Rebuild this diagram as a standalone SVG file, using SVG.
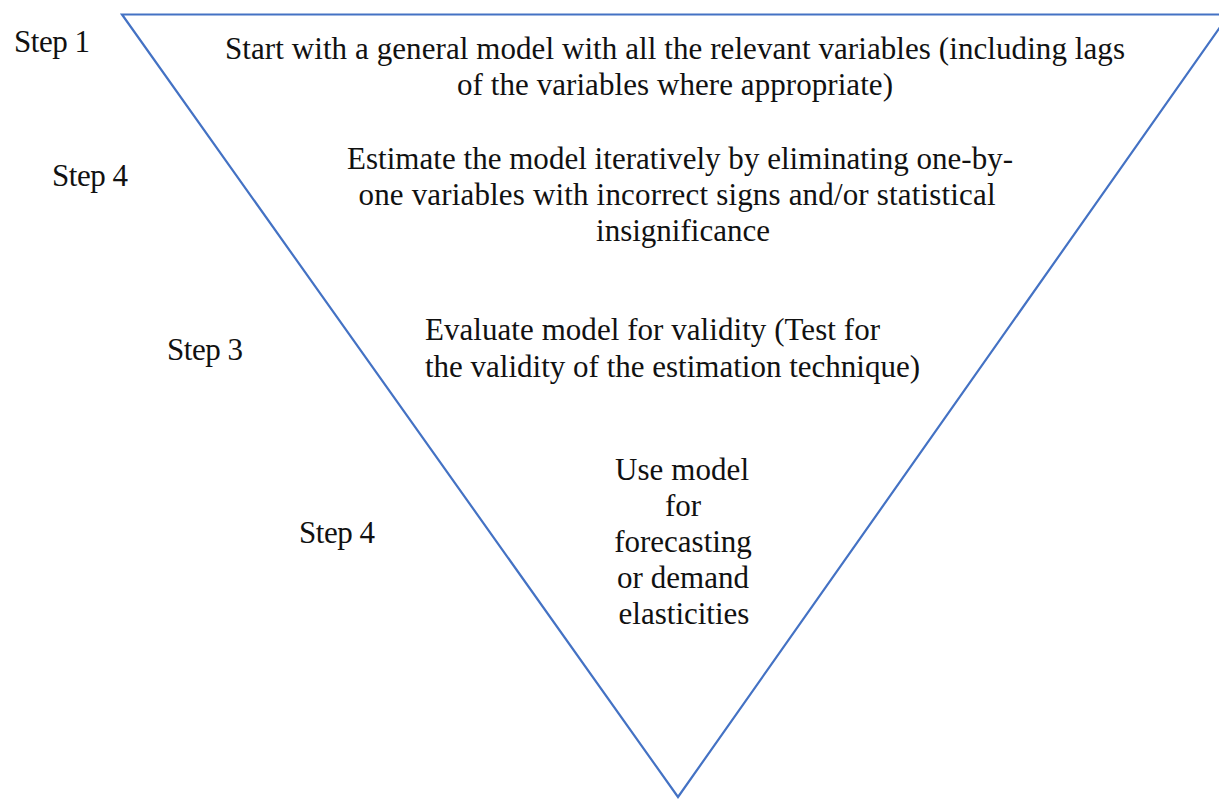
<svg xmlns="http://www.w3.org/2000/svg" width="1219" height="799" viewBox="0 0 1219 799">
<style>
.t{font-family:'Liberation Serif','Times New Roman','DejaVu Serif',serif;font-size:31px;fill:#111}
.c{text-anchor:middle}
.tri{fill:none;stroke:#4472C4;stroke-width:2.2;stroke-linejoin:miter}
</style>
<rect width="1219" height="799" fill="#fff"/>
<g id="connectors">
<polygon id="funnel" class="tri" points="122,14.5 1229,14.5 678,797"/>
</g>
<g id="step1-label"><text class="t" x="14" y="52" textLength="76">Step 1</text></g>
<g id="step4a-label"><text class="t" x="52" y="186" textLength="76">Step 4</text></g>
<g id="step3-label"><text class="t" x="167" y="360" textLength="76">Step 3</text></g>
<g id="step4b-label"><text class="t" x="299" y="543" textLength="76">Step 4</text></g>
<g id="node-general">
<text class="t c" x="675" y="59" textLength="900">Start with a general model with all the relevant variables (including lags</text>
<text class="t c" x="675" y="95" textLength="436">of the variables where appropriate)</text>
</g>
<g id="node-estimate">
<text class="t c" x="680" y="169" textLength="666">Estimate the model iteratively by eliminating one-by-</text>
<text class="t c" x="677" y="205" textLength="637">one variables with incorrect signs and/or statistical</text>
<text class="t c" x="683" y="241">insignificance</text>
</g>
<g id="node-evaluate">
<text class="t" x="425" y="340" textLength="455">Evaluate model for validity (Test for</text>
<text class="t" x="425" y="377" textLength="495">the validity of the estimation technique)</text>
</g>
<g id="node-use">
<text class="t c" x="682" y="480" textLength="134">Use model</text>
<text class="t c" x="683" y="516">for</text>
<text class="t c" x="683" y="552">forecasting</text>
<text class="t c" x="683" y="588" textLength="132">or demand</text>
<text class="t c" x="684" y="624">elasticities</text>
</g>
</svg>
